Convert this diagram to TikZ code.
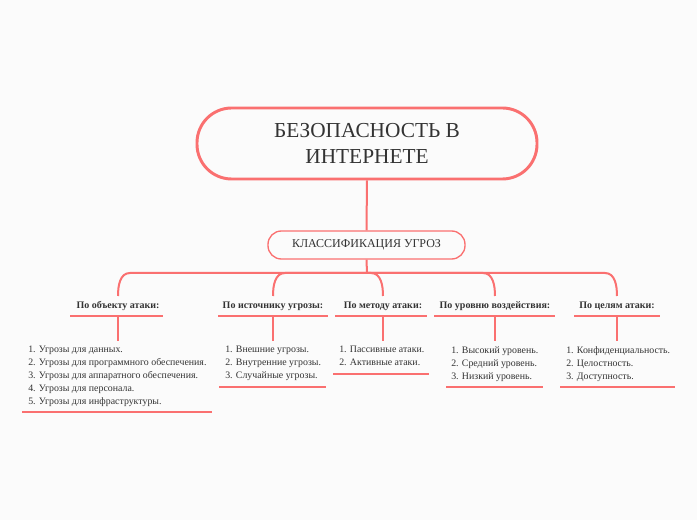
\documentclass[tikz,border=0pt]{standalone}
\usepackage{fontspec}
\setmainfont{Liberation Serif}
\begin{document}
\begin{tikzpicture}[x=0.75pt,y=-0.75pt,
  ln/.style={draw=lc,line width=1.5pt},
  hd/.style={font=\fontsize{7.5}{9}\selectfont\bfseries,text=tc,inner sep=0pt},
  ls/.style={font=\fontsize{7.4}{9.75}\selectfont,text=tc,inner sep=0pt,align=left,anchor=north west}]
\definecolor{lc}{HTML}{FA7070}
\definecolor{tc}{HTML}{333333}
\definecolor{bg}{HTML}{FBFBFB}
\fill[bg] (0,0) rectangle (697,520);
\useasboundingbox (0,0) rectangle (697,520);
\node[draw=lc,line width=2.2pt,rounded corners=26pt,minimum width=340*0.75pt,minimum height=71*0.75pt,align=center,text=tc,font=\fontsize{16}{19}\selectfont] (root) at (367,143.5) {БЕЗОПАСНОСТЬ В\\ИНТЕРНЕТЕ};
\node[draw=lc,line width=1pt,rounded corners=10pt,minimum width=197*0.75pt,minimum height=28*0.75pt,text=tc,font=\fontsize{9}{11}\selectfont] (cls) at (366.5,245) {КЛАССИФИКАЦИЯ УГРОЗ};
\draw[ln] (root.south) -- (cls.north);
\coordinate (bus) at (367,273);
\draw[ln] (cls.south) -- (bus);
\foreach \i/\x/\t/\ua/\ub in {1/118/{По объекту атаки:}/70/163, 2/273/{По источнику угрозы:}/218/328, 3/383/{По методу атаки:}/335/427, 4/495/{По уровню воздействия:}/434/555, 5/617/{По целям атаки:}/574/660}{
  \node[hd] (h\i) at (\x,306) {\t};
  \coordinate (b\i) at (\x,296);
  \coordinate (u\i a) at (\ua,316);
  \coordinate (u\i b) at (\ub,316);
  \coordinate (u\i) at (\x,316);
  \coordinate (v\i) at (\x,341);
  \draw[ln,line width=1.2pt] (u\i a) -- (u\i b);
  \draw[ln,line width=1.2pt] (u\i) -- (v\i);
}
\draw[ln] (bus) -- (130,273) to[out=180,in=90] (b1);
\draw[ln] (bus) -- (285,273) to[out=180,in=90] (b2);
\draw[ln] (bus) -- (371,273) to[out=0,in=90] (b3);
\draw[ln] (bus) -- (483,273) to[out=0,in=90] (b4);
\draw[ln] (bus) -- (605,273) to[out=0,in=90] (b5);
\node[ls] (l1) at (28,346) {1. Угрозы для данных.\\2. Угрозы для программного обеспечения.\\3. Угрозы для аппаратного обеспечения.\\4. Угрозы для персонала.\\5. Угрозы для инфраструктуры.};
\node[ls] (l2) at (225,346) {1. Внешние угрозы.\\2. Внутренние угрозы.\\3. Случайные угрозы.};
\node[ls] (l3) at (339,346) {1. Пассивные атаки.\\2. Активные атаки.};
\node[ls] (l4) at (451,346) {1. Высокий уровень.\\2. Средний уровень.\\3. Низкий уровень.};
\node[ls] (l5) at (566,346) {1. Конфиденциальность.\\2. Целостность.\\3. Доступность.};
\draw[ln,line width=1.2pt] (22,412) -- (212,412);
\draw[ln,line width=1.2pt] (219,387) -- (326,387);
\draw[ln,line width=1.2pt] (333,374) -- (429,374);
\draw[ln,line width=1.2pt] (446,387) -- (543,387);
\draw[ln,line width=1.2pt] (560,387) -- (675,387);
\end{tikzpicture}
\end{document}
